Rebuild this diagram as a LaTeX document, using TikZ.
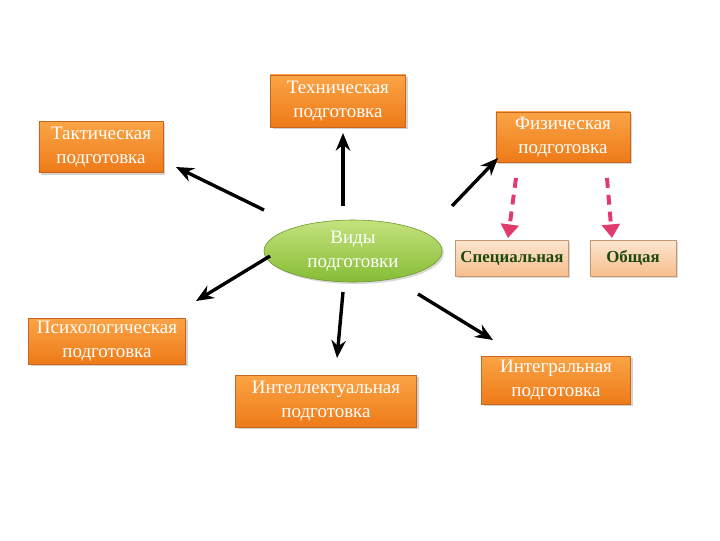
\documentclass[tikz,border=0pt]{standalone}
\usepackage{fontspec}
\setmainfont{Liberation Serif}
\usepackage{tikz}
\usetikzlibrary{arrows.meta,shapes.geometric,shadows}

\definecolor{orlight}{HTML}{FAA446}
\definecolor{ordark}{HTML}{EE7A18}
\definecolor{oredge}{HTML}{C9661E}
\definecolor{grlight}{HTML}{C4E27E}
\definecolor{grdark}{HTML}{86BC35}
\definecolor{pale}{HTML}{FCE6D2}
\definecolor{paledark}{HTML}{F7BE8C}
\definecolor{txtgreen}{HTML}{1E4A10}
\definecolor{dashpink}{HTML}{E23A6C}

\tikzset{
  kind/.style={rectangle, draw=oredge, top color=orlight, bottom color=ordark,
    text=white, align=center, inner sep=1pt,
    font=\fontsize{13.5}{17}\selectfont,
    drop shadow={opacity=.35, shadow xshift=.6mm, shadow yshift=-.6mm}},
  sub/.style={rectangle, draw=paledark!80!black, top color=pale, bottom color=paledark,
    text=txtgreen, align=center, font=\fontsize{12}{15}\selectfont\bfseries,
    minimum height=0.9cm,
    drop shadow={opacity=.3, shadow xshift=.5mm, shadow yshift=-.5mm}},
  hub/.style={ellipse, draw=grdark!80!black, top color=grlight, bottom color=grdark,
    text=white, align=center, font=\fontsize{13.5}{17}\selectfont,
    minimum width=4.45cm, minimum height=1.55cm, inner sep=0pt,
    drop shadow={opacity=.3, shadow xshift=.5mm, shadow yshift=-.5mm}},
  arr/.style={line width=2.4pt, -{Stealth[length=4.4mm, width=3.6mm]}},
  dasharr/.style={dashpink, line width=2.8pt, dash pattern=on 7pt off 5pt,
    -{Triangle[length=3.4mm, width=4.4mm]}}
}

\begin{document}
\begin{tikzpicture}[x=0.025cm, y=-0.025cm]
\useasboundingbox (0,0) rectangle (720,540);

% nodes
\node[hub] (vid) at (353,251) {Виды\\подготовки};
\node[kind, minimum width=3.375cm, minimum height=1.3cm] (tech) at (338,101) {Техническая\\подготовка};
\node[kind, minimum width=3.1cm, minimum height=1.275cm] (takt) at (101,147) {Тактическая\\подготовка};
\node[kind, minimum width=3.35cm, minimum height=1.25cm] (fiz) at (563,137) {Физическая\\подготовка};
\node[kind, minimum width=3.925cm, minimum height=1.15cm] (psih) at (107,341) {Психологическая\\подготовка};
\node[kind, minimum width=4.525cm, minimum height=1.3cm] (intel) at (326,401) {Интеллектуальная\\подготовка};
\node[kind, minimum width=3.725cm, minimum height=1.2cm] (integ) at (556,380) {Интегральная\\подготовка};
\node[sub, minimum width=2.8cm] (spec) at (512,258) {Специальная};
\node[sub, minimum width=2.15cm] (obsh) at (633,258) {Общая};

% arrow ends
\coordinate (up0) at (343,206);  \coordinate (up1) at (343,133);
\coordinate (tk0) at (264,210);  \coordinate (tk1) at (176,167);
\coordinate (fz0) at (452,206);  \coordinate (fz1) at (498,158);
\coordinate (ps0) at (270,256);  \coordinate (ps1) at (196,301);
\coordinate (in0) at (343,292);  \coordinate (in1) at (337,358);
\coordinate (ig0) at (418,294);  \coordinate (ig1) at (493,340);
\coordinate (sp0) at (516,178);  \coordinate (sp1) at (508,238);
\coordinate (ob0) at (607,178);  \coordinate (ob1) at (612,238);

\draw[arr] (up0) -- (up1);
\draw[arr] (tk0) -- (tk1);
\draw[arr] (fz0) -- (fz1);
\draw[arr] (ps0) -- (ps1);
\draw[arr] (in0) -- (in1);
\draw[arr] (ig0) -- (ig1);
\draw[dasharr] (sp0) -- (sp1);
\draw[dasharr] (ob0) -- (ob1);
\end{tikzpicture}
\end{document}
